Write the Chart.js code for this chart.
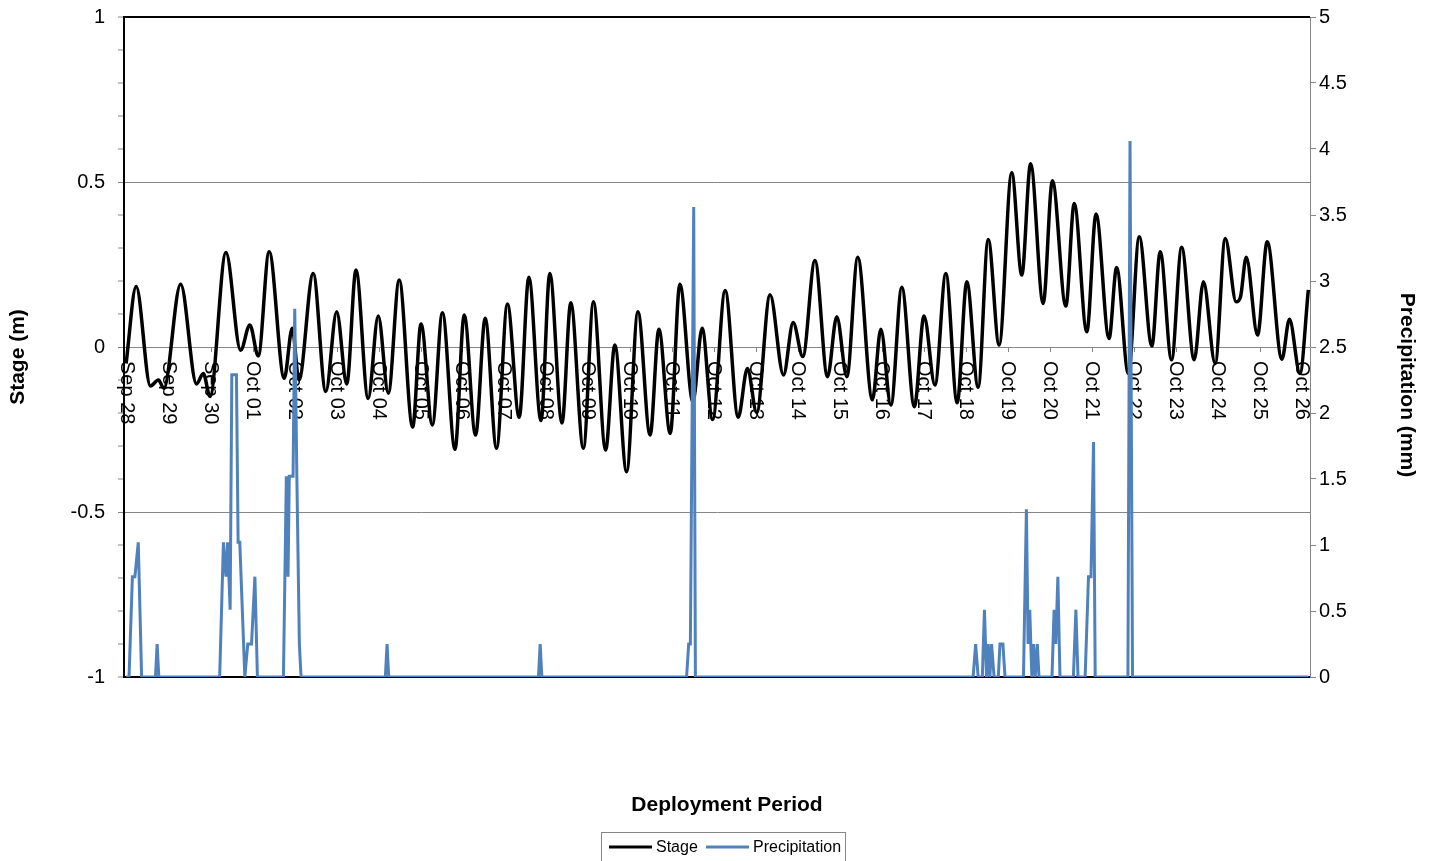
<!DOCTYPE html>
<html><head><meta charset="utf-8">
<script src="https://cdn.jsdelivr.net/npm/chart.js@4.4.1/dist/chart.umd.min.js"></script>
<style>html,body{margin:0;padding:0;background:#fff;}canvas{display:block;}</style>
</head><body>
<canvas id="c" width="1434" height="861" style="width:1434px;height:861px"></canvas>
<script>
// ---- data (x in days since Sep 28 00:00) ----
const tickLabels = ['Sep 28','Sep 29','Sep 30','Oct 01','Oct 02','Oct 03','Oct 04','Oct 05','Oct 06','Oct 07',
  'Oct 08','Oct 09','Oct 10','Oct 11','Oct 12','Oct 13','Oct 14','Oct 15','Oct 16','Oct 17','Oct 18','Oct 19',
  'Oct 20','Oct 21','Oct 22','Oct 23','Oct 24','Oct 25','Oct 26'];

const stageDays = [-0.03,0.21,0.55,0.74,0.87,1.27,1.65,1.81,1.97,2.35,2.70,2.92,3.12,3.38,3.74,3.93,4.09,4.43,4.73,4.99,
  5.23,5.45,5.74,5.98,6.22,6.48,6.80,7.00,7.27,7.51,7.81,8.03,8.30,8.53,8.80,9.06,9.34,9.57,9.86,10.07,
  10.36,10.57,10.87,11.11,11.40,11.62,11.90,12.17,12.46,12.67,12.94,13.17,13.48,13.70,13.95,14.25,14.56,14.78,15.00,15.32,
  15.64,15.87,16.10,16.39,16.69,16.91,17.15,17.41,17.76,17.96,18.20,18.46,18.76,18.99,19.25,19.51,19.78,20.01,20.28,20.52,
  20.78,21.08,21.32,21.53,21.83,22.05,22.37,22.57,22.87,23.09,23.40,23.58,23.86,24.12,24.42,24.62,24.89,25.13,25.43,25.65,
  25.93,26.17,26.43,26.53,26.67,26.94,27.17,27.52,27.70,27.95,28.15];
const stageValues = [-0.05,0.183,-0.118,-0.10,-0.125,0.19,-0.112,-0.08,-0.15,0.286,-0.01,0.067,-0.027,0.289,-0.095,0.057,-0.10,0.223,-0.135,0.107,
  -0.112,0.233,-0.156,0.094,-0.14,0.203,-0.243,0.07,-0.236,0.104,-0.31,0.097,-0.267,0.087,-0.307,0.13,-0.213,0.211,-0.223,0.223,
  -0.23,0.134,-0.307,0.137,-0.312,0.006,-0.378,0.107,-0.267,0.054,-0.262,0.19,-0.166,0.057,-0.22,0.171,-0.213,-0.065,-0.199,0.158,
  -0.085,0.074,-0.029,0.262,-0.09,0.092,-0.09,0.272,-0.16,0.054,-0.176,0.181,-0.181,0.094,-0.115,0.223,-0.169,0.198,-0.122,0.326,
  0.006,0.528,0.218,0.555,0.132,0.504,0.124,0.435,0.046,0.403,0.026,0.241,-0.08,0.334,0.003,0.289,-0.039,0.302,-0.039,0.198,
  -0.05,0.329,0.137,0.15,0.272,0.036,0.319,-0.037,0.084,-0.08,0.173];

const precipDays = [-0.03,0.04,0.12,0.18,0.26,0.34,0.67,0.71,0.75,
  2.20,2.29,2.35,2.39,2.45,2.49,2.55,2.60,2.64,2.68,2.80,2.87,2.96,3.04,3.10,
  3.72,3.79,3.83,3.86,3.95,3.99,4.04,4.10,4.14,
  6.15,6.19,6.23,9.80,9.84,9.88,
  13.33,13.38,13.42,13.50,13.54,
  20.16,20.22,20.28,20.38,20.43,20.48,20.52,20.56,20.60,20.66,20.76,20.80,20.87,20.92,
  21.36,21.43,21.47,21.51,21.56,21.60,21.64,21.69,21.73,
  22.04,22.09,22.13,22.18,22.23,22.55,22.61,22.66,22.83,22.91,22.97,23.03,23.07,
  23.85,23.90,23.96,28.15];
const precipValues = [0,0,0.76,0.76,1.02,0,0,0.25,0,
  0,1.02,0.76,1.02,0.51,2.29,2.29,2.29,1.02,1.02,0,0.25,0.25,0.76,0,
  0,1.52,0.76,1.52,1.52,2.79,1.52,0.25,0,
  0,0.25,0,0,0.25,0,
  0,0.25,0.25,3.56,0,
  0,0.25,0,0,0.51,0,0.25,0,0.25,0,0,0.25,0.25,0,
  0,1.27,0.25,0.51,0,0.25,0,0.25,0,
  0,0.51,0.25,0.76,0,0,0.51,0,0,0.76,0.76,1.78,0,
  0,4.06,0,0];

const xMin = -0.08, xMax = 28.19;
const stageTicks = { min: -1, max: 1, step: 0.1, labelEvery: 0.5 };
const precipTicks = { min: 0, max: 5, step: 0.5 };
const titles = { x: 'Deployment Period', y: 'Stage (m)', y2: 'Precipitation (mm)' };

Chart.defaults.font.family = '"Liberation Sans", Arial, sans-serif';
Chart.defaults.color = '#000';

const GRID = '#868686';
const FAM = '"Liberation Sans", Arial, sans-serif';

const xLabelPlugin = {
  id: 'xLabels',
  beforeDatasetsDraw(chart) {
    const xs = chart.scales.x, ys = chart.scales.y;
    const y0 = ys.getPixelForValue(0) + 14;
    const c = chart.ctx;
    c.save();
    c.font = '20px ' + FAM;
    c.fillStyle = '#000';
    c.textAlign = 'left';
    c.textBaseline = 'middle';
    tickLabels.forEach((t, i) => {
      const x = xs.getPixelForValue(i);
      c.save(); c.translate(x, y0); c.rotate(Math.PI / 2); c.fillText(t, 0, 1); c.restore();
    });
    c.restore();
  }
};

const bottomPlugin = {
  id: 'bottomBits',
  afterDraw(chart) {
    const c = chart.ctx, ca = chart.chartArea;
    c.save();
    c.font = 'bold 21px ' + FAM;
    c.fillStyle = '#000'; c.textAlign = 'center'; c.textBaseline = 'middle';
    c.fillText(titles.x, (ca.left + ca.right) / 2 + 10, 805);
    // axis titles
    c.save(); c.translate(18, 357); c.rotate(-Math.PI / 2); c.fillText(titles.y, 0, 0); c.restore();
    c.save(); c.translate(1407, 385); c.rotate(Math.PI / 2); c.fillText(titles.y2, 0, 0); c.restore();
    // legend
    const bx = 601, by = 832, bw = 244, bh = 40;
    c.strokeStyle = GRID; c.lineWidth = 1;
    c.strokeRect(bx + 0.5, by + 0.5, bw, bh);
    c.font = '16px ' + FAM;
    c.textAlign = 'left';
    const items = [chart.data.datasets[0], chart.data.datasets[1]];
    const starts = [609, 706];
    items.forEach((ds, i) => {
      const x = starts[i], y = 847;
      c.strokeStyle = ds.borderColor; c.lineWidth = 3;
      c.beginPath(); c.moveTo(x, y); c.lineTo(x + 43, y); c.stroke();
      c.fillStyle = '#000';
      c.fillText(ds.label, x + 47, y + 1);
    });
    c.restore();
  }
};

const stagePts = stageDays.map((d, i) => ({ x: d, y: stageValues[i] }));
const precipPts = precipDays.map((d, i) => ({ x: d, y: precipValues[i] }));

const fixY = (s) => { s.width = 124; s.paddingTop = 8; s.paddingBottom = 8; };

new Chart(document.getElementById('c'), {
  type: 'line',
  data: {
    datasets: [
      { label: 'Stage', data: stagePts, yAxisID: 'y', borderColor: '#000000', borderWidth: 3.5,
        pointRadius: 0, cubicInterpolationMode: 'monotone', fill: false, order: 2 },
      { label: 'Precipitation', data: precipPts, yAxisID: 'y2', borderColor: '#4F81BD', borderWidth: 3,
        pointRadius: 0, tension: 0, fill: false, order: 1 }
    ]
  },
  options: {
    responsive: false, animation: false,
    layout: { padding: { left: 0, right: 0, top: 17, bottom: 184 } },
    plugins: { legend: { display: false }, tooltip: { enabled: false }, title: { display: false } },
    scales: {
      x: {
        type: 'linear', position: { y: 0 }, min: xMin, max: xMax,
        afterBuildTicks: (s) => { s.ticks = tickLabels.map((_, i) => ({ value: i })); },
        ticks: { display: false },
        grid: { drawOnChartArea: false, drawTicks: true, tickLength: 5, color: GRID, tickColor: GRID },
        border: { display: false }
      },
      y: {
        position: 'left', min: stageTicks.min, max: stageTicks.max,
        ticks: {
          stepSize: stageTicks.step, maxTicksLimit: 40, autoSkip: false, padding: 13,
          font: { size: 20 }, color: '#000',
          callback: (v) => {
            const r = Math.round(v * 10) / 10;
            return Math.abs(r / stageTicks.labelEvery - Math.round(r / stageTicks.labelEvery)) < 1e-6 ? String(r) : '';
          }
        },
        grid: {
          color: (ctx) => {
            const v = Math.round(ctx.tick.value * 10) / 10;
            if (Math.abs(v) === 1) return '#000';
            return Math.abs(v * 2 - Math.round(v * 2)) < 1e-6 ? GRID : 'rgba(0,0,0,0)';
          },
          lineWidth: (ctx) => {
            const v = Math.round(ctx.tick.value * 10) / 10;
            if (Math.abs(v) === 1) return 2;
            return Math.abs(v * 2 - Math.round(v * 2)) < 1e-6 ? 1 : 0;
          },
          tickColor: GRID, tickWidth: 1, tickLength: 6
        },
        border: { display: true, color: '#000', width: 2 },
        title: { display: false },
        afterFit: fixY
      },
      y2: {
        position: 'right', min: precipTicks.min, max: precipTicks.max,
        ticks: { stepSize: precipTicks.step, maxTicksLimit: 40, autoSkip: false, padding: 3, font: { size: 20 }, color: '#000',
          callback: (v) => String(Math.round(v * 10) / 10) },
        grid: { drawOnChartArea: false, tickColor: GRID, tickWidth: 1, tickLength: 6 },
        border: { display: true, color: GRID, width: 1 },
        title: { display: false },
        afterFit: fixY
      }
    }
  },
  plugins: [xLabelPlugin, bottomPlugin]
});
</script>
</body></html>
